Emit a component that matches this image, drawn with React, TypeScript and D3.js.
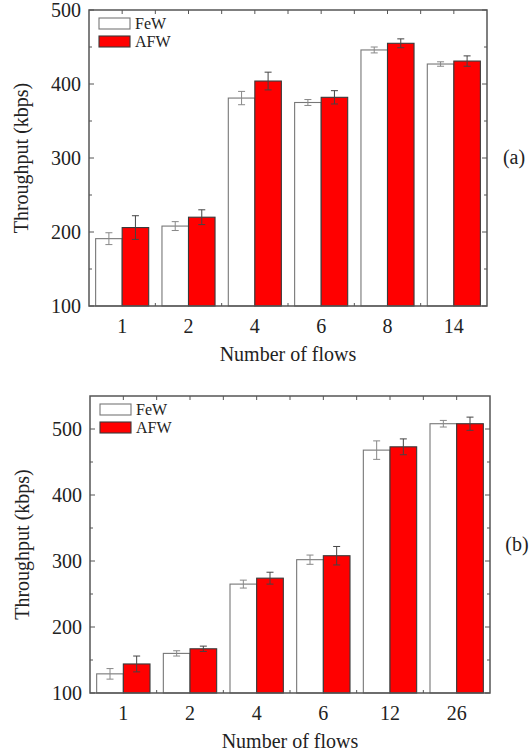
import * as d3 from 'd3';
import React from 'react';

const flowsA = ['1', '2', '4', '6', '8', '14'];
const fewA = [191, 208, 381, 375, 446, 427];
const fewErrA = [8, 6, 9, 4, 4, 3];
const afwA = [206, 220, 404, 382, 455, 431];
const afwErrA = [16, 10, 12, 9, 6, 7];

const flowsB = ['1', '2', '4', '6', '12', '26'];
const fewB = [129, 160, 265, 302, 468, 508];
const fewErrB = [8, 4, 6, 7, 14, 5];
const afwB = [144, 167, 274, 308, 473, 508];
const afwErrB = [12, 4, 9, 14, 12, 10];

const seriesNames = ['FeW', 'AFW'];
const yTicksA = [100, 200, 300, 400, 500];
const yTicksB = [100, 200, 300, 400, 500];

const font = 'Liberation Serif, Times New Roman, serif';
const axisColor = '#555';
const textColor = '#222';
const txt = { fontFamily: font, fill: textColor };

type PanelProps = {
  flows: string[];
  few: number[];
  fewErr: number[];
  afw: number[];
  afwErr: number[];
  yMax: number;
  yTicks: number[];
  box: { left: number; right: number; top: number; bottom: number };
  tag: string;
};

const Panel = ({ flows, few, fewErr, afw, afwErr, yMax, yTicks, box, tag }: PanelProps) => {
  const { left, right, top, bottom } = box;
  const x = d3.scaleBand().domain(flows).range([left, right]).padding(0);
  const inner = d3.scaleBand().domain(seriesNames).range([0, x.bandwidth()]).paddingInner(0).paddingOuter(0.25);
  const y = d3.scaleLinear().domain([100, yMax]).range([bottom, top]);

  const minorTicks = d3.range(150, yMax, 100);
  const bounds = flows.slice(1).map(f => x(f) as number);

  const rows = flows.map((f, i) => [
    { key: 'FeW', v: few[i], e: fewErr[i], f },
    { key: 'AFW', v: afw[i], e: afwErr[i], f },
  ]).flat();

  const midY = (top + bottom) / 2;

  return (
    <g>
      {/* bars */}
      {rows.map((d, i) => {
        const bx = (x(d.f) as number) + (inner(d.key) as number);
        const red = d.key === 'AFW';
        return (
          <rect key={'b' + i} x={bx} y={y(d.v)} width={inner.bandwidth()} height={bottom - y(d.v)}
            fill={red ? '#ff0000' : '#ffffff'} stroke={red ? '#3a3a3a' : '#777'} strokeWidth={1.1} />
        );
      })}
      {/* error bars */}
      {rows.map((d, i) => {
        const cx = (x(d.f) as number) + (inner(d.key) as number) + inner.bandwidth() / 2;
        const c = d.key === 'AFW' ? '#444' : '#888';
        return (
          <g key={'e' + i} stroke={c} strokeWidth={1}>
            <line x1={cx} x2={cx} y1={y(d.v - d.e)} y2={y(d.v + d.e)} />
            <line x1={cx - 3.5} x2={cx + 3.5} y1={y(d.v - d.e)} y2={y(d.v - d.e)} />
            <line x1={cx - 3.5} x2={cx + 3.5} y1={y(d.v + d.e)} y2={y(d.v + d.e)} />
          </g>
        );
      })}
      {/* frame */}
      <rect x={left} y={top} width={right - left} height={bottom - top} fill="none" stroke={axisColor} strokeWidth={1.5} />
      {/* y ticks */}
      {yTicks.map(t => (
        <g key={'yt' + t} stroke={axisColor} strokeWidth={1}>
          <line x1={left} x2={left + 5} y1={y(t)} y2={y(t)} />
          <line x1={right} x2={right - 5} y1={y(t)} y2={y(t)} />
        </g>
      ))}
      {minorTicks.map(t => (
        <g key={'ym' + t} stroke={axisColor} strokeWidth={1}>
          <line x1={left} x2={left + 3} y1={y(t)} y2={y(t)} />
          <line x1={right} x2={right - 3} y1={y(t)} y2={y(t)} />
        </g>
      ))}
      {/* x ticks */}
      {flows.map(f => {
        const cx = (x(f) as number) + x.bandwidth() / 2;
        return <line key={'xt' + f} x1={cx} x2={cx} y1={top} y2={top + 4} stroke={axisColor} strokeWidth={1} />;
      })}
      {bounds.map((b, i) => (
        <g key={'xb' + i} stroke={axisColor} strokeWidth={1}>
          <line x1={b} x2={b} y1={top} y2={top + 4} />
          <line x1={b} x2={b} y1={bottom} y2={bottom - 3} />
        </g>
      ))}
      {/* tick labels */}
      {yTicks.map(t => (
        <text key={'yl' + t} x={left - 8} y={y(t) + 7} textAnchor="end" fontSize={20} style={txt}>{t}</text>
      ))}
      {flows.map(f => (
        <text key={'xl' + f} x={(x(f) as number) + x.bandwidth() / 2} y={bottom + 27} textAnchor="middle"
          fontSize={20} style={txt}>{f}</text>
      ))}
      <text x={(left + right) / 2} y={bottom + 55} textAnchor="middle" fontSize={20} style={txt}>Number of flows</text>
      <text transform={`translate(${left - 61},${midY}) rotate(-90)`} textAnchor="middle" fontSize={20} style={txt}>Throughput (kbps)</text>
      <text x={right + 27} y={midY + 6} textAnchor="middle" fontSize={20} style={txt}>{tag}</text>
      {/* legend */}
      {seriesNames.map((s, i) => {
        const ly = top + 8 + i * 18;
        const red = s === 'AFW';
        return (
          <g key={'lg' + s}>
            <rect x={left + 10} y={ly} width={31} height={11} fill={red ? '#ff0000' : '#fff'} stroke={red ? '#3a3a3a' : '#777'} strokeWidth={1.1} />
            <text x={left + 46} y={ly + 11} fontSize={16} style={txt}>{s}</text>
          </g>
        );
      })}
    </g>
  );
};

export default function App() {
  return (
    <svg width={531} height={753} style={{ position: 'absolute', left: 0, top: 0, background: '#fff' }}>
      <Panel flows={flowsA} few={fewA} fewErr={fewErrA} afw={afwA} afwErr={afwErrA} yMax={500} yTicks={yTicksA}
        box={{ left: 89, right: 487, top: 10, bottom: 306 }} tag="(a)" />
      <Panel flows={flowsB} few={fewB} fewErr={fewErrB} afw={afwB} afwErr={afwErrB} yMax={550} yTicks={yTicksB}
        box={{ left: 90, right: 490, top: 396, bottom: 693 }} tag="(b)" />
    </svg>
  );
}
